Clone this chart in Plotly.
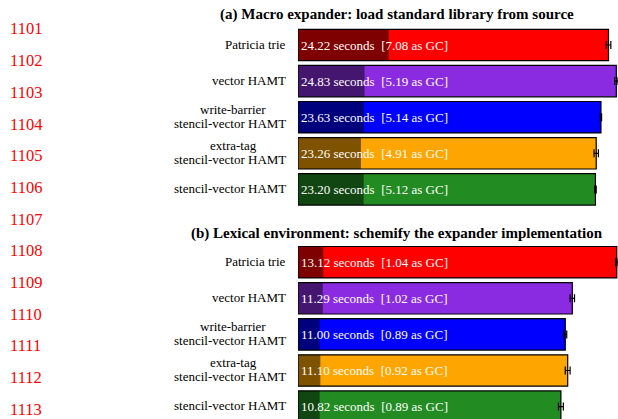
import plotly.graph_objects as go

W, H = 618, 419

# ---- data -------------------------------------------------------------
implementations = [
    "Patricia trie",
    "vector HAMT",
    "write-barrier\nstencil-vector HAMT",
    "extra-tag\nstencil-vector HAMT",
    "stencil-vector HAMT",
]
bar_colors = ["#ff0000", "#8a2be2", "#0000ff", "#ffa500", "#228b22"]
gc_colors = ["#7f0000", "#45166f", "#00007f", "#7f5200", "#114511"]

macro_total = [24.22, 24.83, 23.63, 23.26, 23.20]
macro_gc = [7.08, 5.19, 5.14, 4.91, 5.12]
macro_err = [0.18, 0.13, 0.05, 0.17, 0.06]

lexenv_total = [13.12, 11.29, 11.00, 11.10, 10.82]
lexenv_gc = [1.04, 1.02, 0.89, 0.92, 0.89]
lexenv_err = [0.05, 0.09, 0.06, 0.10, 0.10]

panel_titles = [
    "(a) Macro expander: load standard library from source",
    "(b) Lexical environment: schemify the expander implementation",
]
line_numbers = list(range(1101, 1114))

# ---- geometry (pixels) ------------------------------------------------
SERIF = "Times New Roman, Liberation Serif, serif"
PLOT_LEFT = 298          # x pixel of zero
LABEL_RIGHT = 288        # right edge of category labels
MULTI_CENTER = 233       # centre of two-line category labels
PITCH = 36.1             # vertical distance between bars
PANEL_TOPS = [45.0, 262.2]   # centre of first bar in each panel
TITLE_Y = [15, 233]
TITLE_X = 397

fig = go.Figure()
annotations = []

panels = [
    (macro_total, macro_gc, macro_err),
    (lexenv_total, lexenv_gc, lexenv_err),
]

ypos = list(range(len(implementations)))
label_font = dict(family=SERIF, size=13, color="black")

for p, (total, gc, err) in enumerate(panels):
    xa = "x" if p == 0 else "x2"
    ya = "y" if p == 0 else "y2"
    # full run time
    fig.add_trace(go.Bar(
        x=total, y=ypos, orientation="h", xaxis=xa, yaxis=ya,
        marker=dict(color=bar_colors, line=dict(width=0)),
        width=0.87, hoverinfo="skip", showlegend=False,
    ))
    # portion of run time spent in GC
    fig.add_trace(go.Bar(
        x=gc, y=ypos, orientation="h", xaxis=xa, yaxis=ya,
        marker=dict(color=gc_colors, line=dict(width=0)),
        width=0.87, hoverinfo="skip", showlegend=False,
    ))
    # outline, label text and error bars
    labels = [f"{t:.2f} seconds \u00a0[{g:.2f} as GC]" for t, g in zip(total, gc)]
    fig.add_trace(go.Bar(
        x=total, y=ypos, orientation="h", xaxis=xa, yaxis=ya,
        marker=dict(color="rgba(0,0,0,0)", line=dict(color="black", width=1.2)),
        width=0.87,
        text=labels, textposition="inside", insidetextanchor="start",
        textangle=0, constraintext="none",
        textfont=dict(family=SERIF, size=13, color="white"),
        error_x=dict(type="data", array=err, color="black", thickness=1.2, width=4),
        hoverinfo="skip", showlegend=False, cliponaxis=False,
    ))

    # category labels
    for i, name in enumerate(implementations):
        lines = name.split("\n")
        if len(lines) == 1:
            annotations.append(dict(
                text=lines[0], xref="paper", yref=ya, x=LABEL_RIGHT / W, y=i,
                xanchor="right", yanchor="middle", yshift=1, showarrow=False,
                font=label_font,
            ))
        else:
            annotations.append(dict(
                text=lines[0], xref="paper", yref=ya, x=MULTI_CENTER / W, y=i,
                xanchor="center", yanchor="middle", yshift=7.6, showarrow=False,
                font=label_font,
            ))
            annotations.append(dict(
                text=lines[1], xref="paper", yref=ya, x=LABEL_RIGHT / W, y=i,
                xanchor="right", yanchor="middle", yshift=-6.2, showarrow=False,
                font=label_font,
            ))

    annotations.append(dict(
        text=f"<b>{panel_titles[p]}</b>", xref="paper", yref="paper",
        x=TITLE_X / W, y=1 - TITLE_Y[p] / H, xanchor="center", yanchor="middle",
        showarrow=False, font=dict(family=SERIF, size=15, color="black"),
    ))

# line numbers down the left margin
for k, n in enumerate(line_numbers):
    yc = 29 + 31.67 * k
    annotations.append(dict(
        text=str(n), xref="paper", yref="paper", x=8 / W, y=1 - yc / H,
        xanchor="left", yanchor="middle", showarrow=False,
        font=dict(family=SERIF, size=16.5, color="#ff0000"),
    ))


def y_layout(center_first, bottom_px):
    top_px = center_first - PITCH / 2
    span_units = (bottom_px - top_px) / PITCH
    return dict(
        domain=[1 - bottom_px / H, 1 - top_px / H],
        range=[-0.5 + span_units, -0.5],
        visible=False, fixedrange=True,
    )


ymacro = y_layout(PANEL_TOPS[0], PANEL_TOPS[0] - PITCH / 2 + PITCH * 5)
ylex = y_layout(PANEL_TOPS[1], H)

xmax_a = max(t + e for t, e in zip(macro_total, macro_err))
xmax_b = max(t + e for t, e in zip(lexenv_total, lexenv_err))

fig.update_layout(
    width=W, height=H,
    margin=dict(l=0, r=0, t=0, b=0),
    paper_bgcolor="white", plot_bgcolor="white",
    barmode="overlay",
    font=dict(family=SERIF),
    xaxis=dict(domain=[PLOT_LEFT / W, 1], range=[0, xmax_a], visible=False, anchor="y"),
    xaxis2=dict(domain=[PLOT_LEFT / W, 1], range=[0, xmax_b], visible=False, anchor="y2"),
    yaxis=dict(**ymacro, anchor="x"),
    yaxis2=dict(**ylex, anchor="x2"),
    annotations=annotations,
)

fig.write_html("out.html", config={"displayModeBar": False})
